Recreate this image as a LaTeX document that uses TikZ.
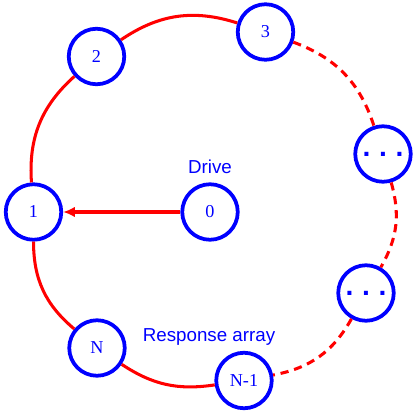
\documentclass[tikz,border=0pt]{standalone}
\usepackage{fontspec}
\setmainfont{Liberation Serif}
\setsansfont{Liberation Sans}
\usetikzlibrary{arrows.meta}
\begin{document}
\begin{tikzpicture}[x=0.03cm,y=-0.03cm,
  osc/.style={draw=blue,line width=3.2pt,circle,minimum size=1.665cm,inner sep=0pt,text=blue,font=\fontsize{15.5}{16}\selectfont},
  link/.style={draw=red,line width=2.6pt,bend left=26},
  dlink/.style={link,dash pattern=on 7pt off 5pt},
  lbl/.style={text=blue,anchor=base,font=\sffamily\fontsize{16}{18}\selectfont}]
\useasboundingbox (0,0) rectangle (415,415);
% oscillators
\node[osc] (n0) at (210,212) {0};
\node[osc] (n1) at (33.5,212) {1};
\node[osc] (n2) at (96.5,56.5) {2};
\node[osc] (n3) at (265.5,32) {3};
\node[osc] (d1) at (383,154) {\sffamily\bfseries\fontsize{24}{24}\selectfont .\hspace{0.26cm}.\hspace{0.26cm}.};
\node[osc] (d2) at (366,293) {\sffamily\bfseries\fontsize{24}{24}\selectfont .\hspace{0.26cm}.\hspace{0.26cm}.};
\node[osc] (nm) at (244,380.5) {N-1};
\node[osc] (nn) at (97,348) {N};
% labels
\node[lbl] (drive) at (210,173.3) {Drive};
\node[lbl] (resp) at (209,341.7) {Response array};
% ring
\draw[link] (n1) to (n2);
\draw[link] (n2) to (n3);
\draw[dlink] (n3) to (d1);
\draw[dlink,bend left=23] (d1) to (d2);
\draw[dlink,bend left=25] (d2) to (nm);
\draw[link,bend left=21] (nm) to (nn);
\draw[link,bend left=25] (nn) to (n1);
% drive coupling
\draw[red,line width=3pt,-{Latex[length=10pt,width=9pt]}] (n0) -- (n1);
\end{tikzpicture}
\end{document}
